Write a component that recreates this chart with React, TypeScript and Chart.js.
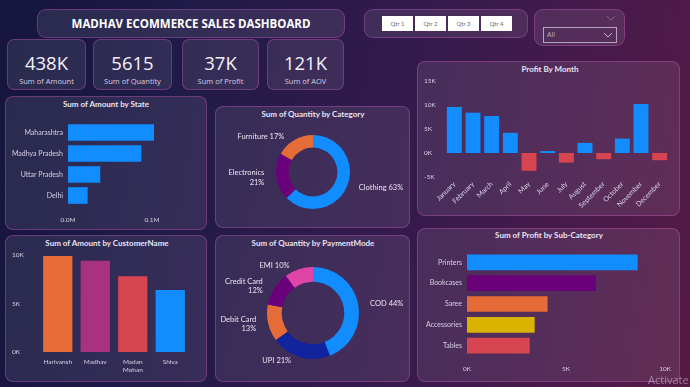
import React, { useEffect, useRef } from 'react';
import { Chart, registerables } from 'chart.js';

Chart.register(...registerables);

// ---------- DATA ----------
const dashboardTitle = 'MADHAV ECOMMERCE SALES DASHBOARD';
const quarters = ['Qtr 1', 'Qtr 2', 'Qtr 3', 'Qtr 4'];
const dropdownValue = 'All';

const kpiValues = ['438K', '5615', '37K', '121K'];
const kpiLabels = ['Sum of Amount', 'Sum of Quantity', 'Sum of Profit', 'Sum of AOV'];

const states = ['Maharashtra', 'Madhya Pradesh', 'Uttar Pradesh', 'Delhi'];
const stateAmounts = [102000, 87000, 38000, 23000];
const stateTicks = [0, 100000];

const categories = ['Clothing', 'Electronics', 'Furniture'];
const categoryQty = [3516, 1154, 945];

const months = ['January', 'February', 'March', 'April', 'May', 'June', 'July', 'August', 'September', 'October', 'November', 'December'];
const monthProfit = [9600, 8400, 7700, 4200, -3700, 400, -2000, 2100, -1300, 3000, 10200, -1500];

const customers = ['Harivansh', 'Madhav', 'Madan Mohan', 'Shiva'];
const customerAmounts = [9900, 9400, 7800, 6400];

const paymentModes = ['COD', 'UPI', 'Debit Card', 'Credit Card', 'EMI'];
const paymentQty = [2470, 1179, 730, 674, 562];

const subCategories = ['Printers', 'Bookcases', 'Saree', 'Accessories', 'Tables'];
const subCategoryProfit = [8600, 6500, 4050, 3400, 3150];

// ---------- STYLE ----------
const BLUE = '#118DFF';
const DARKBLUE = '#12239E';
const ORANGE = '#E66C37';
const PURPLE = '#6B007B';
const PINK = '#E044A7';
const YELLOW = '#D9B300';
const RED = '#D64550';
const MAGENTA = '#A8327E';
const TICK = '#d6cfe4';
const FONT = 'Lato, "Open Sans", sans-serif';

const tickFont = (size: number) => ({ family: FONT, size });

const doughnutLabels = {
  id: 'dlabels',
  afterDraw(chart: any, _args: any, opts: any) {
    const { ctx } = chart;
    const meta = chart.getDatasetMeta(0);
    const data: number[] = chart.data.datasets[0].data;
    const total = data.reduce((a, b) => a + b, 0);
    ctx.save();
    ctx.font = `${opts.size || 7.5}px ${FONT}`;
    ctx.fillStyle = opts.color || '#eee';
    ctx.textBaseline = 'middle';
    meta.data.forEach((arc: any, i: number) => {
      const p = arc.getProps(['x', 'y', 'startAngle', 'endAngle', 'outerRadius'], true);
      const mid = (p.startAngle + p.endAngle) / 2;
      const r = p.outerRadius + 4;
      const px = p.x + Math.cos(mid) * r;
      const py = p.y + Math.sin(mid) * r;
      const pct = Math.round((data[i] / total) * 100) + '%';
      const name = chart.data.labels[i] as string;
      const right = Math.cos(mid) >= 0;
      const wrap = !right && Math.abs(Math.sin(mid)) < 0.8;
      const lines = wrap ? [name, pct] : [name + ' ' + pct];
      const lh = 9.5;
      ctx.textAlign = right ? 'left' : 'right';
      const tx = right ? px + 8 : px - 8;
      const y0 = py - ((lines.length - 1) * lh) / 2;
      lines.forEach((t, k) => ctx.fillText(t, tx, y0 + k * lh));
    });
    ctx.restore();
  },
};

const noGrid = { display: false, drawTicks: false };
const noBorder = { display: false };
const basePlugins = { legend: { display: false }, tooltip: { enabled: false } };

function ChartBox({ left, top, width, height, make }: any) {
  const ref = useRef<HTMLCanvasElement | null>(null);
  useEffect(() => {
    const chart = new Chart(ref.current as HTMLCanvasElement, make());
    return () => chart.destroy();
  }, []);
  return (
    <canvas
      ref={ref}
      width={width}
      height={height}
      style={{ position: 'absolute', left, top, width, height }}
    />
  );
}

const cardStyle = (left: number, top: number, width: number, height: number, radius = 8): React.CSSProperties => ({
  position: 'absolute',
  left,
  top,
  width,
  height,
  boxSizing: 'border-box',
  background: 'rgba(255,255,255,0.085)',
  border: '1px solid rgba(205,90,190,0.38)',
  borderRadius: radius,
});

const titleStyle = (cx: number, cy: number): React.CSSProperties => ({
  position: 'absolute',
  left: cx - 100,
  top: cy - 6,
  width: 200,
  height: 12,
  lineHeight: '12px',
  textAlign: 'center',
  fontFamily: FONT,
  fontWeight: 700,
  fontSize: 8,
  color: '#e9e3f2',
  whiteSpace: 'nowrap',
});

// ---------- CHART CONFIGS ----------
const stateConfig = () => ({
  type: 'bar',
  data: { labels: states, datasets: [{ data: stateAmounts, backgroundColor: BLUE, barThickness: 16 }] },
  options: {
    indexAxis: 'y',
    animation: false,
    responsive: false,
    layout: { padding: { left: 5, right: 13, top: 26, bottom: 4 } },
    plugins: basePlugins,
    scales: {
      x: {
        min: 0,
        max: 150000,
        grid: noGrid,
        border: noBorder,
        afterBuildTicks: (s: any) => { s.ticks = stateTicks.map((value) => ({ value })); },
        ticks: {
          color: TICK,
          font: tickFont(6.5),
          padding: 10,
          callback: (v: number) => (v / 1e6).toFixed(1) + 'M',
        },
        afterFit: (s: any) => { s.height = 20; },
      },
      y: {
        grid: noGrid,
        border: noBorder,
        ticks: { color: TICK, font: tickFont(7), padding: 5 },
        afterFit: (s: any) => { s.width = 58; },
      },
    },
  },
});

const categoryConfig = () => ({
  type: 'doughnut',
  data: { labels: categories, datasets: [{ data: categoryQty, backgroundColor: [BLUE, PURPLE, ORANGE], borderWidth: 0 }] },
  options: {
    animation: false,
    responsive: false,
    cutout: '66%',
    layout: { padding: { left: 61, right: 60, top: 29, bottom: 19 } },
    plugins: { ...basePlugins, dlabels: { size: 7.5, color: '#ebe4f2' } },
  },
  plugins: [doughnutLabels],
});

const monthConfig = () => ({
  type: 'bar',
  data: {
    labels: months,
    datasets: [{
      data: monthProfit,
      backgroundColor: monthProfit.map((v) => (v >= 0 ? BLUE : RED)),
      barPercentage: 0.8,
      categoryPercentage: 1,
    }],
  },
  options: {
    animation: false,
    responsive: false,
    layout: { padding: { left: 7, right: 11, top: 20, bottom: 4 } },
    plugins: basePlugins,
    scales: {
      x: {
        grid: noGrid,
        border: noBorder,
        ticks: { color: TICK, font: tickFont(7), padding: 3, minRotation: 45, maxRotation: 45, autoSkip: false },
        afterFit: (s: any) => { s.height = 35; },
      },
      y: {
        min: -5000,
        max: 15000,
        grid: noGrid,
        border: noBorder,
        ticks: {
          stepSize: 5000,
          color: TICK,
          font: tickFont(6.5),
          crossAlign: 'far',
          callback: (v: number) => v / 1000 + 'K',
        },
        afterFit: (s: any) => { s.width = 21; },
      },
    },
  },
});

const customerConfig = () => ({
  type: 'bar',
  data: {
    labels: customers.map((c) => (c.includes(' ') ? c.split(' ') : c)),
    datasets: [{
      data: customerAmounts,
      backgroundColor: [ORANGE, MAGENTA, RED, BLUE],
      barPercentage: 0.78,
      categoryPercentage: 1,
    }],
  },
  options: {
    animation: false,
    responsive: false,
    layout: { padding: { left: 7, right: 18, top: 20, bottom: 2 } },
    plugins: basePlugins,
    scales: {
      x: {
        grid: noGrid,
        border: noBorder,
        ticks: { color: TICK, font: tickFont(6.5), padding: 6, maxRotation: 0, autoSkip: false },
        afterFit: (s: any) => { s.height = 28; },
      },
      y: {
        min: 0,
        max: 10000,
        grid: noGrid,
        border: noBorder,
        ticks: {
          stepSize: 5000,
          color: TICK,
          font: tickFont(6.5),
          crossAlign: 'far',
          callback: (v: number) => v / 1000 + 'K',
        },
        afterFit: (s: any) => { s.width = 27; },
      },
    },
  },
});

const paymentConfig = () => ({
  type: 'doughnut',
  data: {
    labels: paymentModes,
    datasets: [{ data: paymentQty, backgroundColor: [BLUE, DARKBLUE, ORANGE, PURPLE, PINK], borderWidth: 0 }],
  },
  options: {
    animation: false,
    responsive: false,
    cutout: '68%',
    layout: { padding: { left: 52, right: 51, top: 32, bottom: 23 } },
    plugins: { ...basePlugins, dlabels: { size: 7.5, color: '#ebe4f2' } },
  },
  plugins: [doughnutLabels],
});

const subCategoryConfig = () => ({
  type: 'bar',
  data: {
    labels: subCategories,
    datasets: [{ data: subCategoryProfit, backgroundColor: [BLUE, PURPLE, ORANGE, YELLOW, RED], barThickness: 15 }],
  },
  options: {
    indexAxis: 'y',
    animation: false,
    responsive: false,
    layout: { padding: { left: 0, right: 10, top: 24, bottom: 4 } },
    plugins: basePlugins,
    scales: {
      x: {
        min: 0,
        max: 10000,
        grid: noGrid,
        border: noBorder,
        ticks: {
          stepSize: 5000,
          color: TICK,
          font: tickFont(6.5),
          padding: 9,
          callback: (v: number) => v / 1000 + 'K',
        },
        afterFit: (s: any) => { s.height = 22; },
      },
      y: {
        grid: noGrid,
        border: noBorder,
        ticks: { color: TICK, font: tickFont(7), padding: 5 },
        afterFit: (s: any) => { s.width = 50; },
      },
    },
  },
});

const kpiLefts = [7, 93, 182, 267];
const kpiWidths = [79, 79, 77, 77];
const qtrLefts = [382, 415, 448, 481];

function Chevron({ left, top, color }: any) {
  return (
    <svg width={10} height={6} style={{ position: 'absolute', left, top }}>
      <polyline points="1,1 5,5 9,1" fill="none" stroke={color} strokeWidth={1} />
    </svg>
  );
}

export default function App() {
  return (
    <div
      style={{
        position: 'relative',
        width: 690,
        height: 387,
        overflow: 'hidden',
        background: 'linear-gradient(100deg, #15153d 0%, #1f1a47 25%, #331a4c 55%, #471a4b 80%, #551a46 100%)',
        fontFamily: '"Open Sans", sans-serif',
      }}
    >
      <style>{'body{margin:0;}'}</style>

      {/* Title */}
      <div style={cardStyle(37, 9, 308, 29, 9)} />
      <div
        style={{
          position: 'absolute', left: 37, top: 9, width: 308, height: 29, lineHeight: '29px',
          textAlign: 'center', color: '#ffffff', fontWeight: 700, fontSize: 11.5, fontFamily: '"Open Sans", sans-serif',
          whiteSpace: 'nowrap',
        }}
      >
        {dashboardTitle}
      </div>

      {/* Quarter slicer */}
      <div style={cardStyle(364, 9, 164, 29, 9)} />
      {quarters.map((q, i) => (
        <div
          key={q}
          style={{
            position: 'absolute', left: qtrLefts[i], top: 16, width: 31, height: 15, background: '#ffffff',
            color: '#6a6a6a', fontSize: 6, lineHeight: '15px', textAlign: 'center', fontFamily: 'Lato, sans-serif',
          }}
        >
          {q}
        </div>
      ))}

      {/* Dropdown slicer */}
      <div style={cardStyle(534, 9, 91, 37, 9)} />
      <Chevron left={606} top={15} color="rgba(255,255,255,0.25)" />
      <div
        style={{
          position: 'absolute', left: 543, top: 27, width: 74, height: 16, boxSizing: 'border-box',
          border: '1px solid rgba(225,215,235,0.7)',
        }}
      />
      <div style={{ position: 'absolute', left: 547, top: 28, fontSize: 7, lineHeight: '14px', color: '#b9b2c8' }}>
        {dropdownValue}
      </div>
      <Chevron left={603} top={32} color="rgba(230,220,240,0.8)" />

      {/* KPI cards */}
      {kpiValues.map((v, i) => (
        <React.Fragment key={kpiLabels[i]}>
          <div style={cardStyle(kpiLefts[i], 39, kpiWidths[i], 51, 7)} />
          <div
            style={{
              position: 'absolute', left: kpiLefts[i], top: 50, width: kpiWidths[i], height: 26, lineHeight: '26px',
              textAlign: 'center', fontSize: 18.5, color: '#f4f0fa', fontFamily: '"Open Sans", sans-serif',
            }}
          >
            {v}
          </div>
          <div
            style={{
              position: 'absolute', left: kpiLefts[i], top: 75, width: kpiWidths[i], height: 12, lineHeight: '12px',
              textAlign: 'center', fontSize: 7.5, color: '#d5cfe2', fontFamily: '"Open Sans", sans-serif',
            }}
          >
            {kpiLabels[i]}
          </div>
        </React.Fragment>
      ))}

      {/* State */}
      <div style={cardStyle(5, 96, 202, 134)} />
      <div style={titleStyle(106, 104)}>Sum of Amount by State</div>
      <ChartBox left={5} top={96} width={202} height={134} make={stateConfig} />

      {/* Category */}
      <div style={cardStyle(215, 106, 195, 122)} />
      <div style={titleStyle(313, 114)}>Sum of Quantity by Category</div>
      <ChartBox left={215} top={106} width={195} height={122} make={categoryConfig} />

      {/* Profit by month */}
      <div style={cardStyle(417, 61, 263, 155)} />
      <div style={titleStyle(550, 69)}>Profit By Month</div>
      <ChartBox left={417} top={61} width={263} height={155} make={monthConfig} />

      {/* Customer */}
      <div style={cardStyle(5, 235, 202, 147)} />
      <div style={titleStyle(107, 243)}>Sum of Amount by CustomerName</div>
      <ChartBox left={5} top={235} width={202} height={147} make={customerConfig} />

      {/* Payment */}
      <div style={cardStyle(215, 235, 195, 147)} />
      <div style={titleStyle(313, 243)}>Sum of Quantity by PaymentMode</div>
      <ChartBox left={215} top={235} width={195} height={147} make={paymentConfig} />

      {/* Sub-category */}
      <div style={cardStyle(417, 228, 263, 154)} />
      <div style={titleStyle(549, 235)}>Sum of Profit by Sub-Category</div>
      <ChartBox left={417} top={228} width={263} height={154} make={subCategoryConfig} />

      <div
        style={{
          position: 'absolute', left: 648, top: 373, fontSize: 11, lineHeight: '14px', color: 'rgba(215,210,220,0.55)',
          fontFamily: '"Open Sans", sans-serif', whiteSpace: 'nowrap',
        }}
      >
        Activate
      </div>
    </div>
  );
}
